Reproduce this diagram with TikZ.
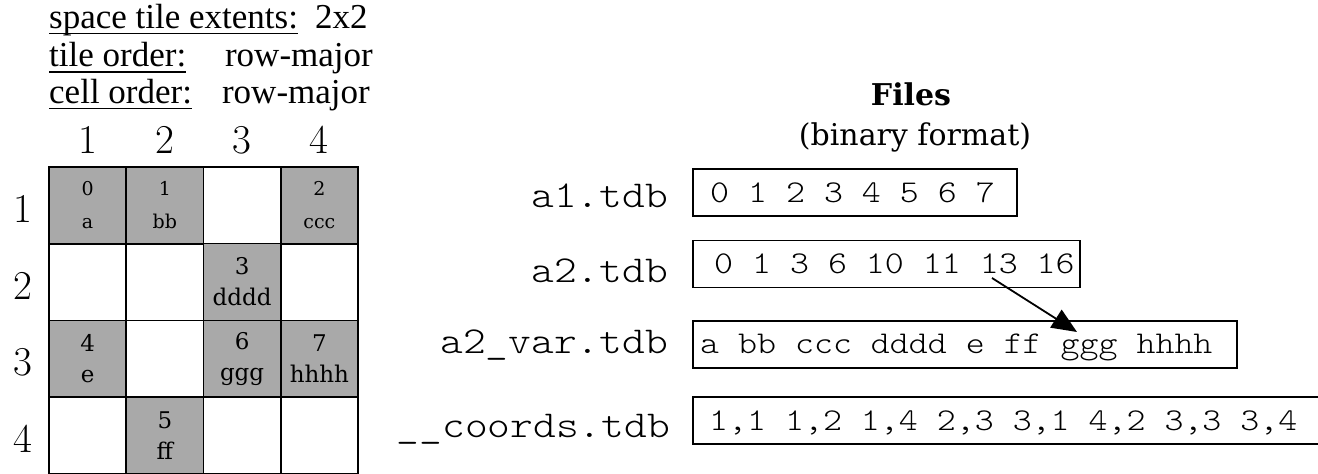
\documentclass[tikz,border=0pt]{standalone}
\usepackage{fontspec}
\newfontfamily\dvs{DejaVu Serif}
\newfontfamily\lsf{Liberation Serif}
\newfontfamily\monofont[FakeStretch=1.14]{lmmonolt10-regular.otf}
\usetikzlibrary{arrows.meta,calc}
\definecolor{cellgray}{HTML}{A9A9A9}
\begin{document}
\begin{tikzpicture}[x=1pt,y=-1pt,
  cell/.style={draw, line width=1.5pt, minimum width=77.25pt, minimum height=76.75pt, inner sep=0pt, align=center,
    font=\dvs\fontsize{23}{31}\selectfont},
  cellone/.style={cell, font=\dvs\fontsize{19}{33}\selectfont},
  shaded/.style={fill=cellgray},
  head/.style={inner sep=0pt, font=\lsf\fontsize{35}{38}\selectfont},
  axisnum/.style={inner sep=0pt, anchor=base, font=\fontsize{41}{44}\selectfont},
  title/.style={inner sep=0pt, anchor=base, font=\dvs\fontsize{30}{34}\selectfont},
  fname/.style={inner sep=0pt, anchor=base east, font=\monofont\fontsize{38}{40}\selectfont},
  filebox/.style={draw, line width=1.5pt, minimum height=47pt, inner sep=0pt, anchor=west},
  boxtext/.style={inner sep=0pt, anchor=base west, font=\monofont\fontsize{31.7}{34}\selectfont},
  uline/.style={line width=1.3pt},
  ptr/.style={line width=1.8pt, -{Triangle[length=25pt,width=21pt]}}]
\useasboundingbox (0,0) rectangle (1318,474);

% header
\node[head, anchor=base west] (h1) at (49,28) {space tile extents:};
\node[head, anchor=base west] (v1) at (315,28) {2x2};
\node[head, anchor=base west] (h2) at (49,66.5) {tile order:};
\node[head, anchor=base east] (v2) at (373,66.5) {row-major};
\node[head, anchor=base west] (h3) at (49,103) {cell order:};
\node[head, anchor=base east] (v3) at (370,103) {row-major};
\draw[uline] ($(h1.base west)+(0,5.5)$) -- ($(h1.base east)+(0,5.5)$);
\draw[uline] ($(h2.base west)+(0,5.5)$) -- ($(h2.base east)+(0,5.5)$);
\draw[uline] ($(h3.base west)+(0,5.5)$) -- ($(h3.base east)+(0,5.5)$);

% column numbers
\node[axisnum] (col1) at (87.6,153) {1};
\node[axisnum] (col2) at (164.9,153) {2};
\node[axisnum] (col3) at (242.1,153) {3};
\node[axisnum] (col4) at (319.4,153) {4};
% row numbers
\node[axisnum] (row1) at (23,222.5) {1};
\node[axisnum] (row2) at (23,299.5) {2};
\node[axisnum] (row3) at (23,375.5) {3};
\node[axisnum] (row4) at (23,452.5) {4};

% grid cells
\node[cellone, shaded] (c11) at (87.6,205.4) {0\\a};
\node[cellone, shaded] (c12) at (164.9,205.4) {1\\bb};
\node[cellone] (c13) at (242.1,205.4) {};
\node[cellone, shaded] (c14) at (319.4,205.4) {2\\ccc};
\node[cell] (c21) at (87.6,282.1) {};
\node[cell] (c22) at (164.9,282.1) {};
\node[cell, shaded] (c23) at (242.1,282.1) {3\\dddd};
\node[cell] (c24) at (319.4,282.1) {};
\node[cell, shaded] (c31) at (87.6,358.9) {4\\e};
\node[cell] (c32) at (164.9,358.9) {};
\node[cell, shaded] (c33) at (242.1,358.9) {6\\ggg};
\node[cell, shaded] (c34) at (319.4,358.9) {7\\hhhh};
\node[cell] (c41) at (87.6,435.6) {};
\node[cell, shaded] (c42) at (164.9,435.6) {5\\ff};
\node[cell] (c43) at (242.1,435.6) {};
\node[cell] (c44) at (319.4,435.6) {};

% files title
\node[title, font=\dvs\bfseries\fontsize{30}{34}\selectfont] (files) at (911,105) {Files};
\node[title] (fmt) at (915,145) {(binary format)};

% file names
\node[fname] (n1) at (668,207) {a1.tdb};
\node[fname] (n2) at (668,282) {a2.tdb};
\node[fname] (n3) at (668,353) {a2\_var.tdb};
\node[fname] (n4) at (670,437) {\_\_coords.tdb};

% file boxes
\node[filebox, minimum width=324pt] (b1) at (692,192.5) {};
\node[filebox, minimum width=387pt] (b2) at (692,264) {};
\node[filebox, minimum width=544pt] (b3) at (692,344.5) {};
\node[filebox, minimum width=660pt] (b4) at (692,420.5) {};

\node[boxtext] (t1) at ($(b1.west)+(18,9.5)$) {0 1 2 3 4 5 6 7};
\node[boxtext] (t2) at ($(b2.west)+(22,9.5)$) {0 1 3 6 10 11 13 16};
\node[boxtext] (t3) at ($(b3.west)+(8,9)$) {a bb ccc dddd e ff ggg hhhh};
\node[boxtext] (t4) at ($(b4.west)+(17,9.5)$) {1,1 1,2 1,4 2,3 3,1 4,2 3,3 3,4};

% pointer
\coordinate (p13) at (992,278);
\coordinate (pggg) at (1077,332);
\draw[ptr] (p13) -- (pggg);
\end{tikzpicture}
\end{document}
